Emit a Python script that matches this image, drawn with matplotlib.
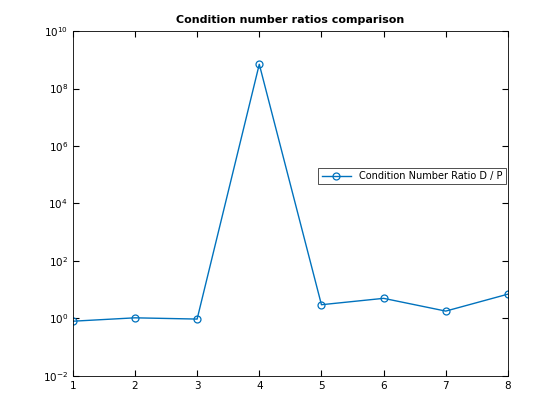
import matplotlib
matplotlib.use('Agg')
import matplotlib.pyplot as plt
from matplotlib.ticker import NullLocator

x = [1, 2, 3, 4, 5, 6, 7, 8]
ratio = [0.8, 1.05, 0.95, 7e8, 3.0, 5.0, 1.8, 7.0]

fig = plt.figure(figsize=(5.6, 4.2), dpi=100)
ax = fig.add_axes([0.130, 0.105, 0.777, 0.821])
ax.semilogy(x, ratio, '-o', color='#0072BD', lw=1, ms=5, mfc='none', mew=0.9,
            label='Condition Number Ratio D / P')
ax.set_xlim(1, 8)
ax.set_ylim(1e-2, 1e10)
ax.set_yticks([10.0**k for k in range(-2, 11, 2)])
ax.yaxis.set_minor_locator(NullLocator())
ax.tick_params(direction='in', labelsize=7.5, top=True, right=True, length=4)
ax.set_title('Condition number ratios comparison', fontsize=8, fontweight='bold')
for s in ax.spines.values():
    s.set_linewidth(0.6)
leg = ax.legend(loc='center left', bbox_to_anchor=(0.553, 0.58), fontsize=7,
                fancybox=False, edgecolor='black', handlelength=3.0, borderpad=0.35)
leg.get_frame().set_linewidth(0.6)
fig.savefig('out.png', dpi=100)
